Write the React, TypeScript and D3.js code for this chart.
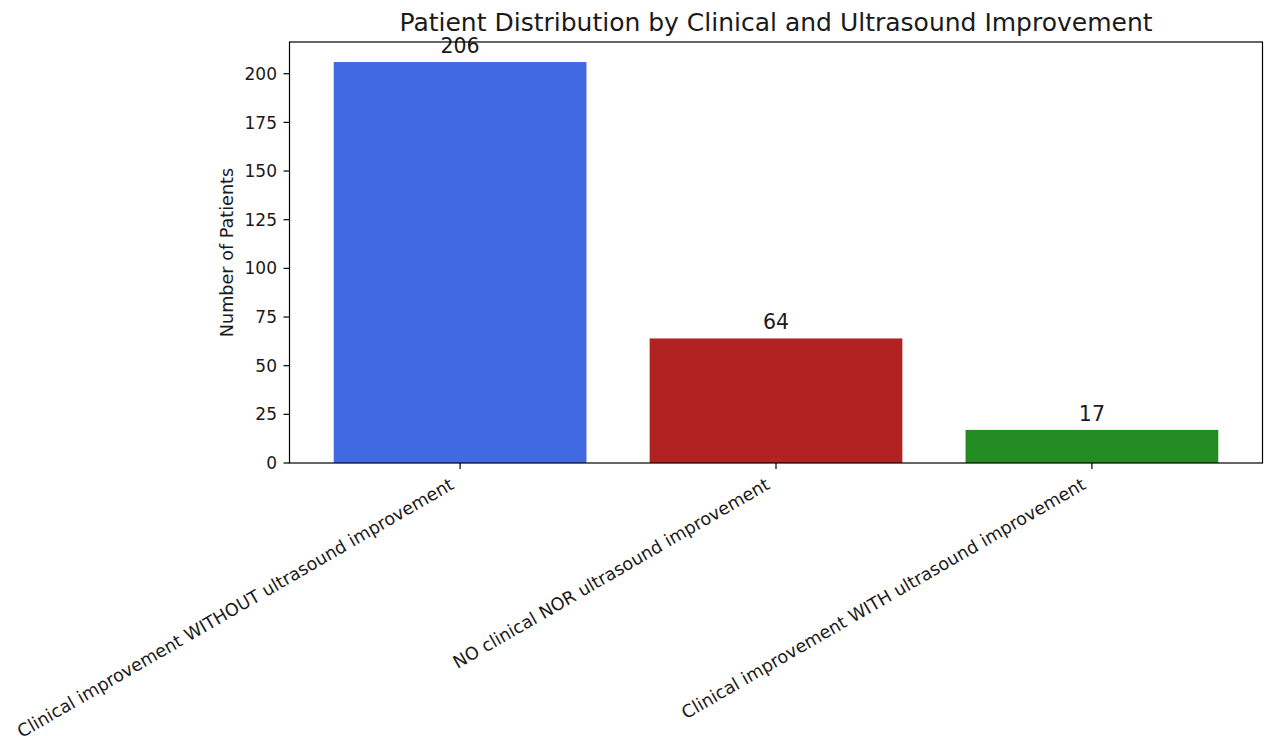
import React, { useRef, useEffect } from 'react';
import * as d3 from 'd3';

// chart data
const categories = [
  'Clinical improvement WITHOUT ultrasound improvement',
  'NO clinical NOR ultrasound improvement',
  'Clinical improvement WITH ultrasound improvement',
];
const patientCounts = [206, 64, 17];
const barColors = ['#4169E1', '#B22222', '#228B22'];
const yTicks = [0, 25, 50, 75, 100, 125, 150, 175, 200];

const W = 1274;
const H = 750;
const FONT = '"DejaVu Sans", sans-serif';

const App: React.FC = () => {
  const ref = useRef<SVGSVGElement | null>(null);

  useEffect(() => {
    if (!ref.current) return;
    const svg = d3.select(ref.current);
    svg.selectAll('*').remove();

    const left = 289.5;
    const right = 1262.5;
    const top = 42;
    const bottom = 463;

    // matplotlib-like limits: bars at 0..n-1, width 0.8, 5% margins
    const n = categories.length;
    const span = (n - 1) + 0.8;
    const x = d3.scaleLinear()
      .domain([-0.4 - span * 0.05, n - 1 + 0.4 + span * 0.05])
      .range([left, right]);
    const yMax = (d3.max(patientCounts) || 0) * 1.05;
    const y = d3.scaleLinear().domain([0, yMax]).range([bottom, top]);

    const g = svg.append('g');

    // bars
    g.selectAll('rect.bar')
      .data(patientCounts)
      .enter()
      .append('rect')
      .attr('class', 'bar')
      .attr('x', (_, i) => x(i - 0.4))
      .attr('y', (d) => y(d))
      .attr('width', x(0.8) - x(0))
      .attr('height', (d) => bottom - y(d))
      .attr('fill', (_, i) => barColors[i]);

    // value labels
    g.selectAll('text.val')
      .data(patientCounts)
      .enter()
      .append('text')
      .attr('class', 'val')
      .attr('x', (_, i) => x(i))
      .attr('y', (d) => y(d) - 9)
      .attr('text-anchor', 'middle')
      .style('font-family', FONT)
      .style('font-size', '20.5px')
      .attr('fill', '#1a1a1a')
      .text((d) => d);

    // y axis ticks
    const yAxis = g.append('g');
    yTicks.forEach((t) => {
      yAxis.append('line')
        .attr('x1', left - 6).attr('x2', left)
        .attr('y1', y(t)).attr('y2', y(t))
        .attr('stroke', '#000').attr('stroke-width', 1.2);
      yAxis.append('text')
        .attr('x', left - 12.5)
        .attr('y', y(t))
        .attr('dy', '0.36em')
        .attr('text-anchor', 'end')
        .style('font-family', FONT)
        .style('font-size', '17px')
        .attr('fill', '#1a1a1a')
        .text(t);
    });

    // x axis ticks + rotated labels
    const xAxis = g.append('g');
    categories.forEach((c, i) => {
      xAxis.append('line')
        .attr('x1', x(i)).attr('x2', x(i))
        .attr('y1', bottom).attr('y2', bottom + 6)
        .attr('stroke', '#000').attr('stroke-width', 1.2);
      xAxis.append('text')
        .attr('transform', `translate(${x(i) - 5},${bottom + 25}) rotate(-30)`)
        .attr('text-anchor', 'end')
        .style('font-family', FONT)
        .style('font-size', '17.6px')
        .attr('fill', '#1a1a1a')
        .text(c);
    });

    // frame
    g.append('rect')
      .attr('x', left).attr('y', top)
      .attr('width', right - left).attr('height', bottom - top)
      .attr('fill', 'none').attr('stroke', '#000').attr('stroke-width', 1.2);

    // y label
    svg.append('text')
      .attr('transform', `translate(233,${(top + bottom) / 2}) rotate(-90)`)
      .attr('text-anchor', 'middle')
      .style('font-family', FONT)
      .style('font-size', '17.6px')
      .attr('fill', '#1a1a1a')
      .text('Number of Patients');

    // title
    svg.append('text')
      .attr('x', (left + right) / 2)
      .attr('y', 31)
      .attr('text-anchor', 'middle')
      .style('font-family', FONT)
      .style('font-size', '25px')
      .attr('fill', '#1a1a1a')
      .text('Patient Distribution by Clinical and Ultrasound Improvement');
  }, []);

  return (
    <svg
      ref={ref}
      width={W}
      height={H}
      style={{ position: 'absolute', left: 0, top: 0, background: '#fff' }}
    />
  );
};

export default App;
